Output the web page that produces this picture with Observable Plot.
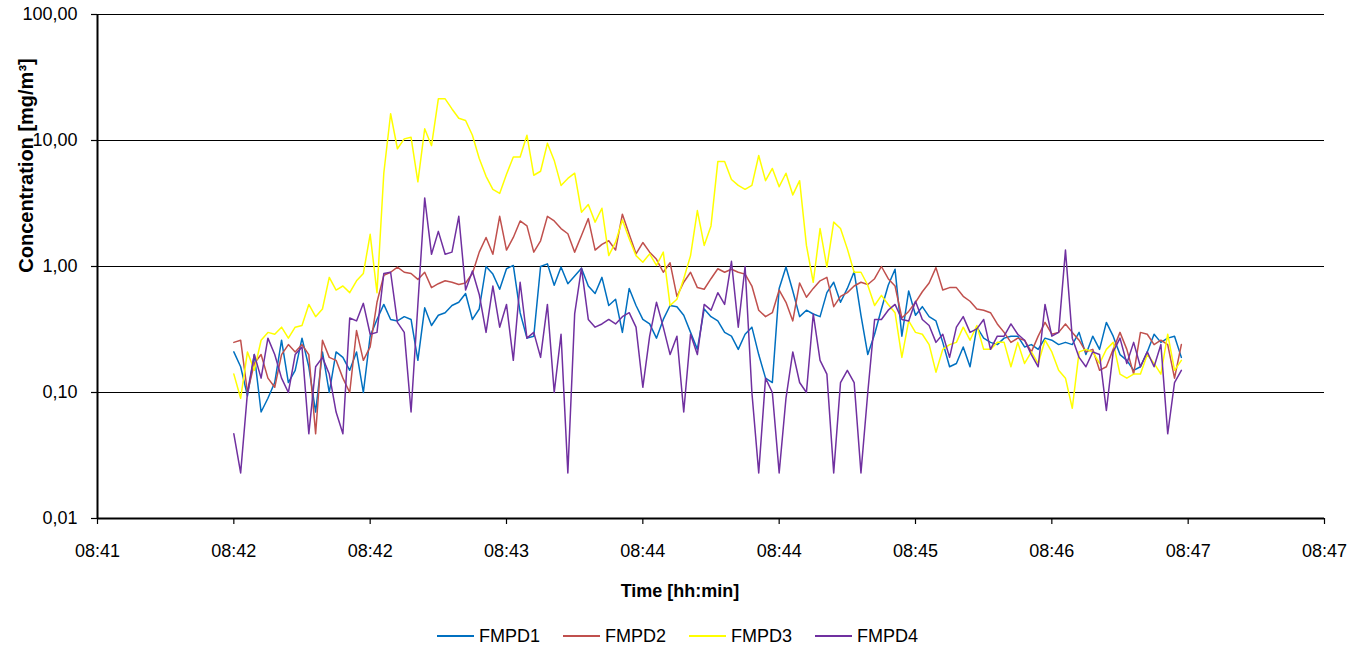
<!DOCTYPE html>
<html>
<head>
<meta charset="utf-8">
<script src="https://cdn.jsdelivr.net/npm/d3@7"></script>
<script src="https://cdn.jsdelivr.net/npm/@observablehq/plot@0.6"></script>
<style>
  html, body { margin: 0; padding: 0; background: white; }
  #chart svg { display: block; }
  #legend { display: flex; align-items: center; padding-left: 437px; margin-top: 14px; height: 20px;
            font-family: 'Liberation Sans', Arial, sans-serif; font-size: 18px; color: black; }
  #legend .item { display: flex; align-items: center; margin-right: 23px; }
  #legend .sw { width: 37px; height: 2px; margin-right: 5px; }
</style>
</head>
<body>
<div id="chart"></div>
<div id="legend"></div>
<script>
// sample times (seconds from first axis tick)
const seconds = [
  40,42,44,46,48,50,52,54,56,58, 60,62,64,66,68,70,72,74,76,78,
  80,82,84,86,88,90,92,94,96,98, 100,102,104,106,108,110,112,114,116,118,
  120,122,124,126,128,130,132,134,136,138, 140,142,144,146,148,150,152,154,156,158,
  160,162,164,166,168,170,172,174,176,178, 180,182,184,186,188,190,192,194,196,198,
  200,202,204,206,208,210,212,214,216,218, 220,222,224,226,228,230,232,234,236,238,
  240,242,244,246,248,250,252,254,256,258, 260,262,264,266,268,270,272,274,276,278,
  280,282,284,286,288,290,292,294,296,298, 300,302,304,306,308,310,312,314,316,318
];

const fmpd1 = [
  0.21,0.16,0.094,0.2,0.07,0.09,0.12,0.26,0.12,0.15,
  0.27,0.16,0.07,0.21,0.1,0.21,0.19,0.15,0.21,0.1,
  0.28,0.38,0.5,0.38,0.37,0.4,0.38,0.18,0.47,0.34,
  0.41,0.43,0.49,0.52,0.61,0.38,0.46,1.0,0.87,0.66,
  0.96,1.02,0.43,0.27,0.28,1.0,1.05,0.71,0.99,0.73,
  0.84,0.97,0.7,0.61,0.82,0.49,0.55,0.3,0.67,0.49,
  0.38,0.35,0.27,0.38,0.49,0.48,0.41,0.3,0.22,0.46,
  0.4,0.37,0.3,0.28,0.22,0.29,0.33,0.2,0.13,0.12,
  0.67,0.99,0.64,0.4,0.45,0.42,0.4,0.62,0.75,0.52,
  0.67,0.91,0.41,0.2,0.29,0.46,0.71,0.95,0.28,0.64,
  0.41,0.48,0.4,0.37,0.25,0.16,0.17,0.23,0.16,0.33,
  0.27,0.25,0.24,0.27,0.28,0.28,0.23,0.24,0.22,0.27,
  0.26,0.24,0.25,0.24,0.3,0.2,0.28,0.22,0.36,0.28,
  0.2,0.18,0.15,0.16,0.21,0.29,0.25,0.27,0.28,0.19
];

const fmpd2 = [
  0.25,0.26,0.1,0.17,0.2,0.13,0.11,0.2,0.24,0.21,
  0.24,0.2,0.047,0.26,0.19,0.18,0.13,0.1,0.31,0.18,
  0.23,0.52,0.85,0.9,0.99,0.9,0.88,0.79,0.9,0.68,
  0.73,0.77,0.75,0.72,0.74,0.88,1.3,1.7,1.25,2.5,
  1.35,1.7,2.3,2.1,1.3,1.6,2.5,2.3,2.0,1.82,
  1.3,1.76,2.4,1.35,1.5,1.6,1.35,2.6,1.8,1.26,
  1.55,1.3,1.14,0.9,1.07,0.58,0.75,0.9,0.68,0.66,
  0.8,0.96,0.9,0.95,0.9,0.87,0.7,0.45,0.4,0.43,
  0.65,0.52,0.37,0.74,0.57,0.67,0.77,0.82,0.48,0.58,
  0.62,0.7,0.75,0.72,0.8,1.0,0.8,0.7,0.39,0.44,
  0.52,0.63,0.74,0.98,0.65,0.68,0.68,0.58,0.53,0.46,
  0.45,0.43,0.35,0.3,0.25,0.27,0.26,0.21,0.28,0.36,
  0.29,0.3,0.35,0.3,0.26,0.21,0.22,0.15,0.16,0.22,
  0.3,0.22,0.14,0.3,0.29,0.24,0.26,0.24,0.13,0.24
];

const fmpd3 = [
  0.14,0.09,0.21,0.15,0.26,0.3,0.29,0.33,0.27,0.33,
  0.34,0.5,0.4,0.46,0.82,0.65,0.7,0.62,0.77,0.88,
  1.8,0.62,5.5,16.3,8.6,10.3,10.6,4.7,12.4,9.1,
  21.4,21.4,17.8,15.0,14.4,11,7.2,5.2,4.1,3.8,
  5.4,7.4,7.4,11,5.3,5.7,9.5,6.95,4.4,5.0,
  5.5,2.7,3.1,2.25,2.9,1.22,1.56,2.34,1.66,1.22,
  1.08,1.26,1.02,1.3,0.49,0.55,0.8,1.22,2.78,1.47,
  2.1,6.8,6.8,4.9,4.4,4.1,4.4,7.6,4.8,6.0,
  4.3,5.5,3.7,4.8,1.47,0.75,2.0,0.99,2.25,2.0,
  1.38,0.9,0.9,0.71,0.49,0.59,0.5,0.43,0.19,0.37,
  0.3,0.29,0.24,0.145,0.22,0.24,0.25,0.33,0.26,0.34,
  0.22,0.22,0.25,0.25,0.16,0.25,0.17,0.21,0.17,0.26,
  0.21,0.15,0.13,0.075,0.21,0.22,0.21,0.17,0.22,0.25,
  0.14,0.13,0.14,0.14,0.2,0.17,0.14,0.29,0.15,0.18
];

const fmpd4 = [
  0.047,0.023,0.1,0.2,0.13,0.27,0.2,0.13,0.1,0.2,
  0.23,0.047,0.16,0.19,0.14,0.07,0.047,0.39,0.37,0.51,
  0.29,0.3,0.88,0.9,0.36,0.3,0.07,0.5,3.5,1.25,
  1.9,1.25,1.3,2.5,0.65,0.92,0.6,0.3,0.7,0.33,
  0.5,0.18,0.75,0.27,0.3,0.19,0.5,0.1,0.29,0.023,
  0.42,0.97,0.38,0.33,0.35,0.38,0.35,0.4,0.43,0.33,
  0.11,0.28,0.52,0.33,0.2,0.28,0.07,0.29,0.2,0.5,
  0.45,0.62,0.5,1.1,0.33,1.0,0.1,0.023,0.13,0.1,
  0.023,0.09,0.21,0.12,0.1,0.42,0.18,0.14,0.023,0.12,
  0.15,0.12,0.023,0.1,0.38,0.38,0.45,0.5,0.38,0.37,
  0.53,0.38,0.34,0.25,0.29,0.19,0.33,0.4,0.3,0.32,
  0.38,0.22,0.28,0.28,0.35,0.29,0.26,0.2,0.16,0.5,
  0.28,0.3,1.35,0.27,0.19,0.16,0.21,0.2,0.072,0.21,
  0.27,0.17,0.25,0.16,0.21,0.16,0.24,0.047,0.12,0.15
];

const seriesNames = ["FMPD1", "FMPD2", "FMPD3", "FMPD4"];
const seriesValues = [fmpd1, fmpd2, fmpd3, fmpd4];
const seriesColors = ["#0070C0", "#C0504D", "#FFFF00", "#7030A0"];

const yTicks = [0.01, 0.1, 1, 10, 100];
const yTickLabels = ["0,01", "0,10", "1,00", "10,00", "100,00"];
const xTicks = [0, 40, 80, 120, 160, 200, 240, 280, 320, 360];
const xTickLabels = ["08:41", "08:42", "08:42", "08:43", "08:44", "08:44", "08:45", "08:46", "08:47", "08:47"];
const yTitle = "Concentration [mg/m³]";
const xTitle = "Time [hh:min]";

const rows = [];
seriesNames.forEach((name, k) => {
  seriesValues[k].forEach((v, i) => rows.push({series: name, t: seconds[i], v}));
});

const font = "'Liberation Sans', Arial, Helvetica, sans-serif";

const chart = Plot.plot({
  width: 1368,
  height: 612,
  marginLeft: 97,
  marginRight: 44,
  marginTop: 14,
  marginBottom: 94,
  style: {fontFamily: font, fontSize: "18px", background: "white", color: "black", overflow: "visible"},
  x: {domain: [xTicks[0], xTicks[xTicks.length - 1]]},
  y: {type: "log", domain: [yTicks[0], yTicks[yTicks.length - 1]]},
  color: {domain: seriesNames, range: seriesColors},
  marks: [
    Plot.ruleY(yTicks.slice(1), {stroke: "black", strokeWidth: 1.2}),
    Plot.axisY({ticks: yTicks, tickFormat: d => yTickLabels[yTicks.indexOf(d)], tickSize: 6, tickPadding: 14,
                label: null, stroke: "black", strokeWidth: 1.2, fontSize: 18}),
    Plot.axisX({ticks: xTicks, tickFormat: d => xTickLabels[xTicks.indexOf(d)], tickSize: 6, tickPadding: 20,
                label: null, stroke: "black", strokeWidth: 1.2, fontSize: 18}),
    Plot.line(rows, {x: "t", y: "v", z: "series", stroke: "series", strokeWidth: 1.5}),
    Plot.ruleX([xTicks[0]], {stroke: "black", strokeWidth: 2}),
    Plot.ruleY([yTicks[0]], {stroke: "black", strokeWidth: 2}),
    Plot.text([yTitle], {frameAnchor: "left", textAnchor: "middle", lineAnchor: "middle", dx: -71, dy: -101,
                         rotate: -90, fontWeight: "bold", fontSize: 20}),
    Plot.text([xTitle], {frameAnchor: "bottom", textAnchor: "middle", lineAnchor: "middle", dx: -31, dy: 73,
                         fontWeight: "bold", fontSize: 18})
  ]
});
document.getElementById("chart").appendChild(chart);

const legend = document.getElementById("legend");
seriesNames.forEach((name, k) => {
  const item = document.createElement("div");
  item.className = "item";
  const sw = document.createElement("span");
  sw.className = "sw";
  sw.style.background = seriesColors[k];
  const lab = document.createElement("span");
  lab.textContent = name;
  item.appendChild(sw);
  item.appendChild(lab);
  legend.appendChild(item);
});
</script>
</body>
</html>
